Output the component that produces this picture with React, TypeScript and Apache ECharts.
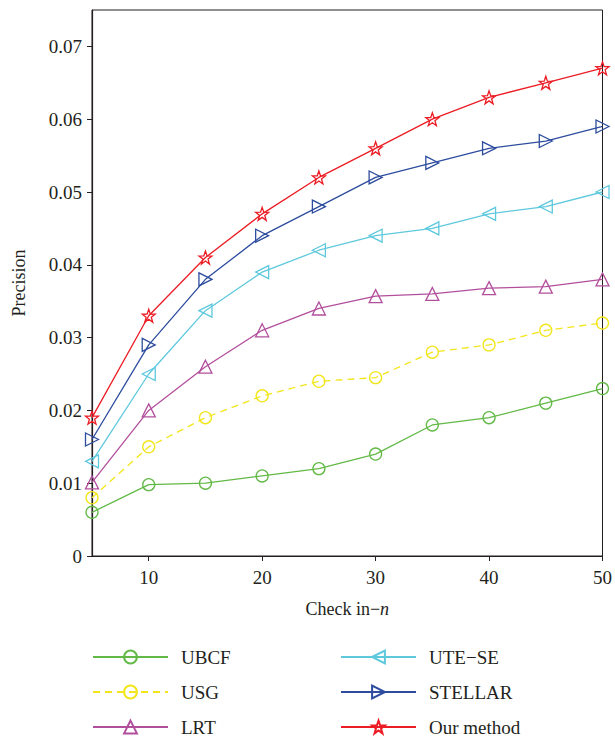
import React, { useEffect, useRef } from "react";
import * as echarts from "echarts";

const xValues = [5, 10, 15, 20, 25, 30, 35, 40, 45, 50];
const ubcf = [0.006, 0.0098, 0.01, 0.011, 0.012, 0.014, 0.018, 0.019, 0.021, 0.023];
const usg = [0.008, 0.015, 0.019, 0.022, 0.024, 0.0245, 0.028, 0.029, 0.031, 0.032];
const lrt = [0.0101, 0.02, 0.026, 0.031, 0.034, 0.0357, 0.036, 0.0368, 0.037, 0.038];
const uteSe = [0.013, 0.025, 0.0337, 0.039, 0.042, 0.044, 0.045, 0.047, 0.048, 0.05];
const stellar = [0.016, 0.029, 0.038, 0.044, 0.048, 0.052, 0.054, 0.056, 0.057, 0.059];
const ourMethod = [0.019, 0.033, 0.041, 0.047, 0.052, 0.056, 0.06, 0.063, 0.065, 0.067];

const xTicks = [10, 20, 30, 40, 50];
const yTicks = [0, 0.01, 0.02, 0.03, 0.04, 0.05, 0.06, 0.07];

const FONT = "'Liberation Serif', 'Times New Roman', serif";
const TEXT = "#231f20";
const STAR =
  "path://M0,-10 L2.35,-3.24 L9.51,-3.09 L3.8,1.24 L5.88,8.09 L0,4 L-5.88,8.09 L-3.8,1.24 L-9.51,-3.09 L-2.35,-3.24 Z";

function pairs(ys: number[]) {
  return xValues.map((x, i) => [x, ys[i]]);
}

function mkSeries(
  name: string,
  ys: number[],
  color: string,
  symbol: string,
  size: number,
  rotate: number,
  dashed = false
) {
  return {
    name,
    type: "line",
    data: pairs(ys),
    symbol,
    symbolSize: size,
    symbolRotate: rotate,
    showAllSymbol: true,
    lineStyle: { color, width: 1.3, type: dashed ? [7, 5] : "solid" },
    itemStyle: { color: "rgba(255,255,255,0)", borderColor: color, borderWidth: 1.3 },
    emphasis: { disabled: true },
  };
}

export default function App() {
  const ref = useRef<HTMLDivElement>(null);
  useEffect(() => {
    document.body.style.margin = "0";
    const chart = echarts.init(ref.current!, null, { renderer: "svg" });
    const legendCommon = {
      orient: "vertical",
      itemWidth: 75,
      itemHeight: 16,
      itemGap: 15,
      itemTextGap: 13,
      top: 647,
      padding: 0,
      height: 95,
      textStyle: {
        fontFamily: FONT,
        fontSize: 19,
        color: TEXT,
        lineHeight: 20,
        padding: [0, 0, 0, 8],
      },
      selectedMode: false,
    };
    chart.setOption({
      animation: false,
      backgroundColor: "#fff",
      grid: {
        left: 92,
        top: 10,
        right: 10,
        bottom: 188,
        show: true,
        borderColor: TEXT,
        borderWidth: 1,
      },
      legend: [
        { ...legendCommon, left: 92, data: ["UBCF", "USG", "LRT"] },
        { ...legendCommon, left: 340, data: ["UTE\u2212SE", "STELLAR", "Our method"] },
      ],
      xAxis: {
        type: "value",
        min: 5,
        max: 50,
        name: "Check in\u2212{i|n}",
        nameLocation: "middle",
        nameGap: 44,
        nameTextStyle: {
          fontFamily: FONT,
          fontSize: 18,
          color: TEXT,
          rich: { i: { fontFamily: FONT, fontSize: 18, fontStyle: "italic", color: TEXT } },
        },
        axisLine: { lineStyle: { color: TEXT, width: 1.2 } },
        axisTick: { show: true, customValues: xTicks, length: 5, lineStyle: { color: TEXT } },
        axisLabel: {
          customValues: xTicks,
          fontFamily: FONT,
          fontSize: 19,
          color: TEXT,
          margin: 12,
        },
        splitLine: { show: false },
      },
      yAxis: {
        type: "value",
        min: 0,
        max: 0.075,
        name: "Precision",
        nameLocation: "middle",
        nameGap: 64,
        nameTextStyle: { fontFamily: FONT, fontSize: 18, color: TEXT },
        axisLine: { show: true, lineStyle: { color: TEXT, width: 1.2 } },
        axisTick: { show: true, customValues: yTicks, length: 5, lineStyle: { color: TEXT } },
        axisLabel: {
          customValues: yTicks,
          fontFamily: FONT,
          fontSize: 19,
          color: TEXT,
          margin: 10,
          formatter: (v: number) => (v === 0 ? "0" : v.toFixed(2)),
        },
        splitLine: { show: false },
      },
      series: [
        mkSeries("UBCF", ubcf, "#62b946", "circle", 12, 0),
        mkSeries("USG", usg, "#f2e51a", "circle", 12, 0, true),
        mkSeries("LRT", lrt, "#b24f9c", "triangle", 13, 0),
        mkSeries("UTE\u2212SE", uteSe, "#5ec8dd", "triangle", 13, 90),
        mkSeries("STELLAR", stellar, "#2d4c9e", "triangle", 13, -90),
        mkSeries("Our method", ourMethod, "#ec1c24", STAR, 13, 0),
      ],
    });
    return () => chart.dispose();
  }, []);
  return <div ref={ref} style={{ width: 615, height: 744 }} />;
}
